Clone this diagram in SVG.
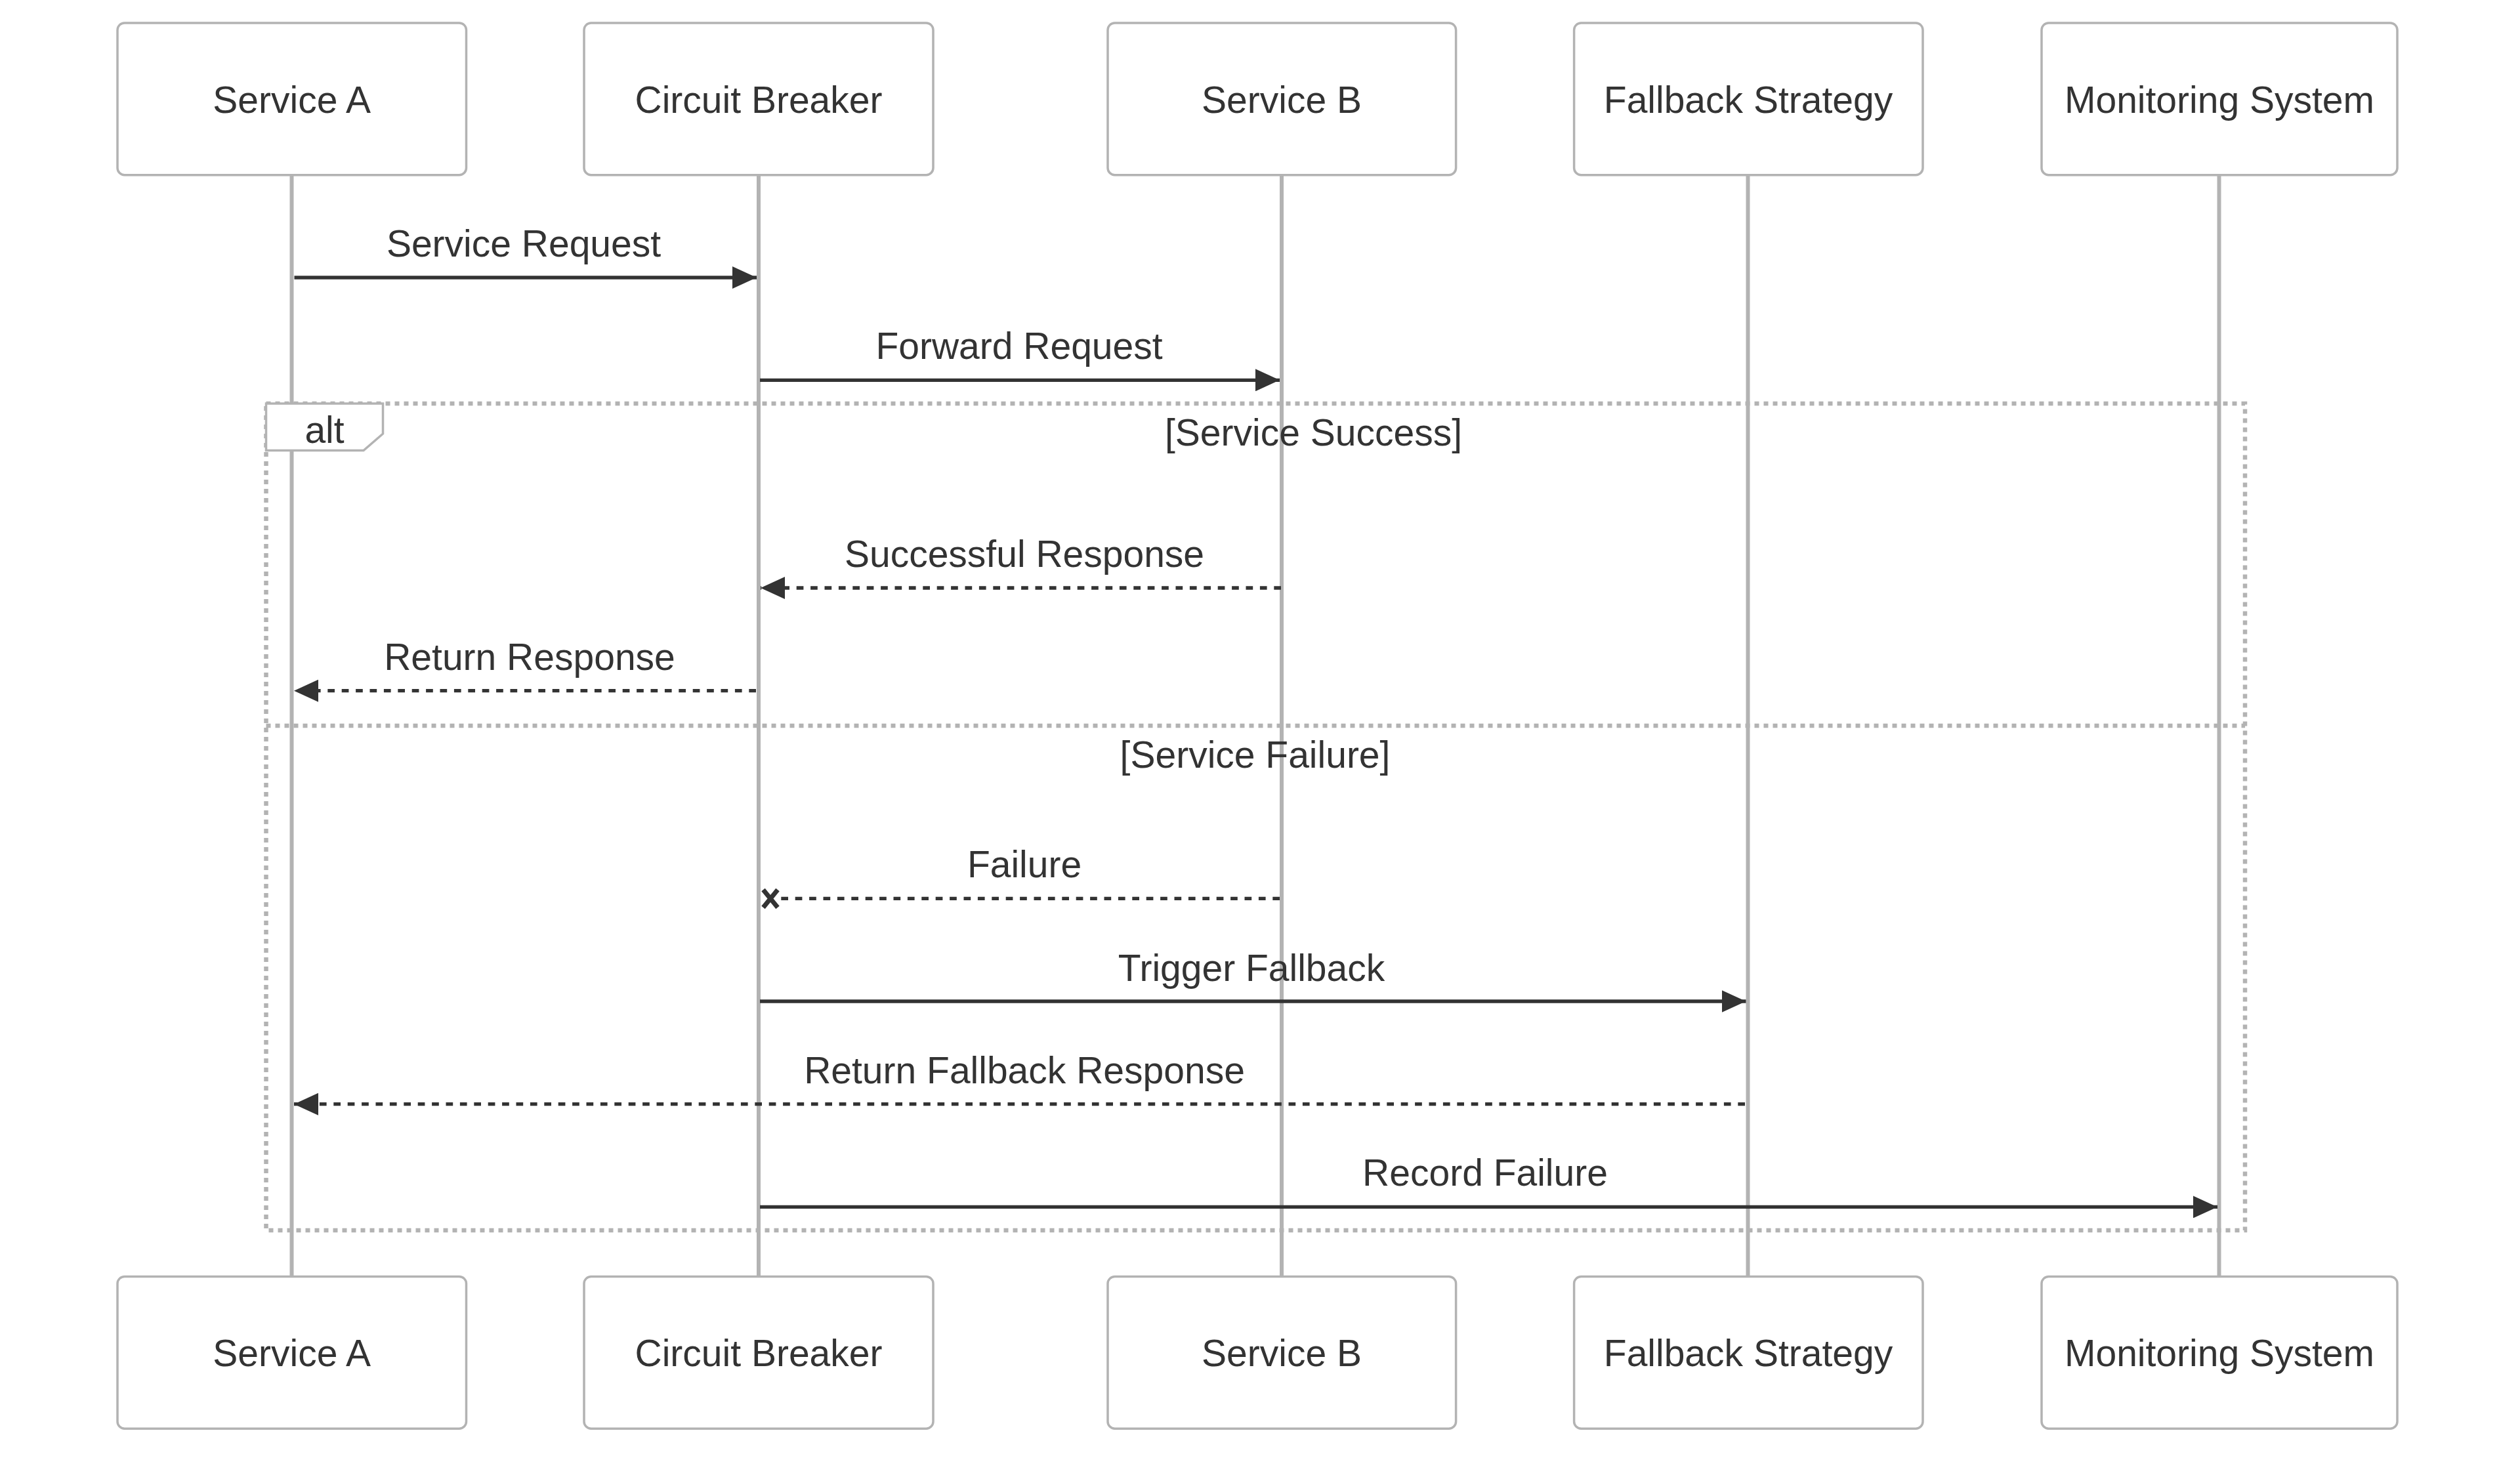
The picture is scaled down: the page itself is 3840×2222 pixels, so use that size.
<svg xmlns="http://www.w3.org/2000/svg" width="3840" height="2222" viewBox="0 0 3840 2222">
<style>
.bg{fill:#fff}
.box{fill:#fff;stroke:#b3b3b3;stroke-width:3.5}
.life{stroke:#b3b3b3;stroke-width:6}
.t{font-family:"Liberation Sans",Arial,sans-serif;font-size:57px;fill:#333;text-anchor:middle}
.msg{stroke:#333;stroke-width:5.3;fill:none}
.dot{stroke-dasharray:10.7 10.7}
.loop{stroke:#b3b3b3;stroke-width:6.5;stroke-dasharray:7 7;fill:none}
.lbl{fill:#fff;stroke:#b3b3b3;stroke-width:3.5}
</style>
<defs>
<marker id="ah" markerUnits="userSpaceOnUse" viewBox="0 0 10 10" markerWidth="37" markerHeight="34" refX="10" refY="5" orient="auto" preserveAspectRatio="none">
<path d="M0,0 L10,5 L0,10 z" fill="#333"/>
</marker>
</defs>
<rect class="bg" x="0" y="0" width="3840" height="2222"/>

<g id="lifelines">
<line class="life" x1="444.5" y1="267" x2="444.5" y2="1946"/>
<line class="life" x1="1156" y1="267" x2="1156" y2="1946"/>
<line class="life" x1="1953" y1="267" x2="1953" y2="1946"/>
<line class="life" x1="2663.5" y1="267" x2="2663.5" y2="1946"/>
<line class="life" x1="3381.5" y1="267" x2="3381.5" y2="1946"/>
</g>

<g id="alt">
<rect class="loop" x="405.5" y="615" width="3015.5" height="1260"/>
<line class="loop" x1="405.5" y1="1106" x2="3421" y2="1106"/>
<path class="lbl" d="M405.5,615 L583.5,615 L583.5,661 L554,686.5 L405.5,686.5 Z"/>
<text class="t" x="494.5" y="675">alt</text>
<text class="t" x="2001.5" y="679">[Service Success]</text>
<text class="t" x="1912.5" y="1170">[Service Failure]</text>
</g>

<g id="connectors">
<line class="msg" x1="448.5" y1="423" x2="1153" y2="423" marker-end="url(#ah)"/>
<text class="t" x="798" y="391">Service Request</text>
<line class="msg" x1="1158" y1="579.3" x2="1950" y2="579.3" marker-end="url(#ah)"/>
<text class="t" x="1553" y="547">Forward Request</text>
<line class="msg dot" x1="1952" y1="896" x2="1159" y2="896" marker-end="url(#ah)"/>
<text class="t" x="1561" y="864">Successful Response</text>
<line class="msg dot" x1="1152" y1="1052.7" x2="448" y2="1052.7" marker-end="url(#ah)"/>
<text class="t" x="807" y="1021">Return Response</text>
<line class="msg dot" x1="1950" y1="1369.3" x2="1190" y2="1369.3"/>
<path d="M1163,1356 L1185,1383 M1185,1356 L1163,1383" stroke="#333" stroke-width="7" fill="none"/>
<text class="t" x="1561" y="1337">Failure</text>
<line class="msg" x1="1158" y1="1526" x2="2660.5" y2="1526" marker-end="url(#ah)"/>
<text class="t" x="1907" y="1494.5">Trigger Fallback</text>
<line class="msg dot" x1="2659" y1="1682.7" x2="448" y2="1682.7" marker-end="url(#ah)"/>
<text class="t" x="1561" y="1650.5">Return Fallback Response</text>
<line class="msg" x1="1158" y1="1839.4" x2="3379" y2="1839.4" marker-end="url(#ah)"/>
<text class="t" x="2263" y="1807">Record Failure</text>
</g>

<g id="service-a">
<rect class="box" x="179" y="35" width="531.5" height="231.7" rx="10.7"/>
<text class="t" x="444.7" y="171.5">Service A</text>
<rect class="box" x="179" y="1945.5" width="531.5" height="231.7" rx="10.7"/>
<text class="t" x="444.7" y="2081.7">Service A</text>
</g>
<g id="circuit-breaker">
<rect class="box" x="890" y="35" width="532" height="231.7" rx="10.7"/>
<text class="t" x="1156" y="171.5">Circuit Breaker</text>
<rect class="box" x="890" y="1945.5" width="532" height="231.7" rx="10.7"/>
<text class="t" x="1156" y="2081.7">Circuit Breaker</text>
</g>
<g id="service-b">
<rect class="box" x="1688" y="35" width="530.6" height="231.7" rx="10.7"/>
<text class="t" x="1953" y="171.5">Service B</text>
<rect class="box" x="1688" y="1945.5" width="530.6" height="231.7" rx="10.7"/>
<text class="t" x="1953" y="2081.7">Service B</text>
</g>
<g id="fallback-strategy">
<rect class="box" x="2398.6" y="35" width="531.4" height="231.7" rx="10.7"/>
<text class="t" x="2664" y="171.5">Fallback Strategy</text>
<rect class="box" x="2398.6" y="1945.5" width="531.4" height="231.7" rx="10.7"/>
<text class="t" x="2664" y="2081.7">Fallback Strategy</text>
</g>
<g id="monitoring-system">
<rect class="box" x="3111" y="35" width="542" height="231.7" rx="10.7"/>
<text class="t" x="3382" y="171.5">Monitoring System</text>
<rect class="box" x="3111" y="1945.5" width="542" height="231.7" rx="10.7"/>
<text class="t" x="3382" y="2081.7">Monitoring System</text>
</g>
</svg>
